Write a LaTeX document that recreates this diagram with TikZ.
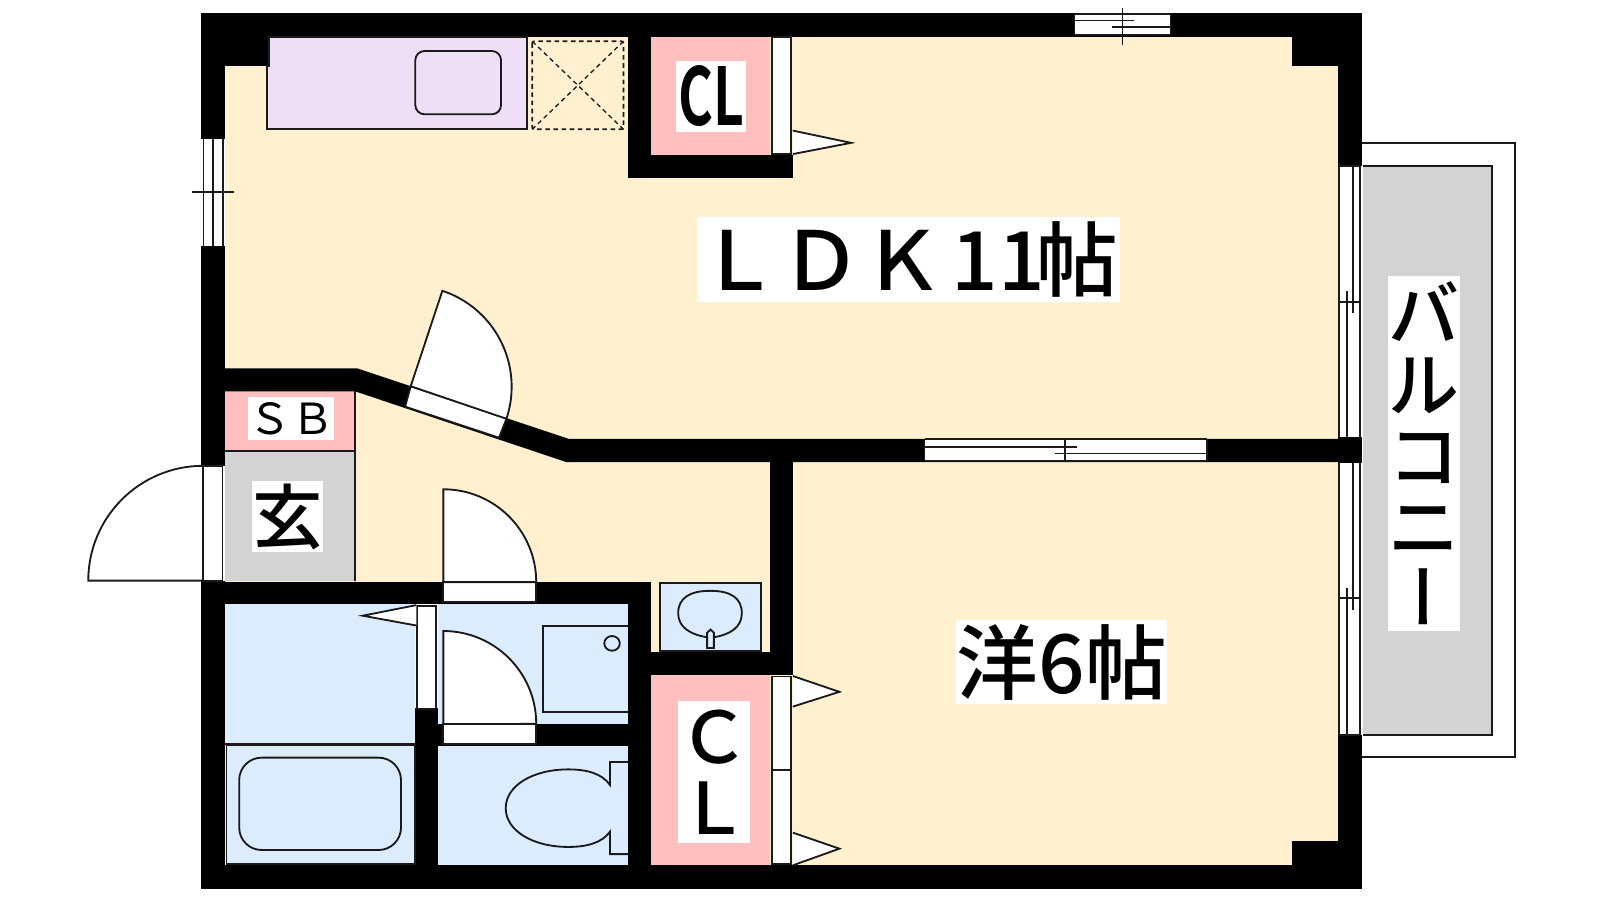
\documentclass[tikz,border=0pt]{standalone}
\usepackage{fontspec}
\setmainfont{Noto Sans CJK JP Medium}
\newfontfamily\regjp{Noto Sans CJK JP}
\newfontfamily\boldjp{Noto Sans CJK JP Bold}
\newfontfamily\vertjp[RawFeature=+vert]{Noto Sans CJK JP Medium}
\definecolor{cream}{HTML}{FFF1CF}
\definecolor{lav}{HTML}{EEDFF6}
\definecolor{pinkc}{HTML}{FFBFBF}
\definecolor{bluec}{HTML}{DBECFF}
\definecolor{grayc}{HTML}{D3D3D3}
\definecolor{ink}{HTML}{1A1A1A}
\tikzset{
  wallfill/.style={fill=black,draw=none},
  outl/.style={draw=ink,line width=1.8pt,line join=miter},
  thin line/.style={draw=ink,line width=1.7pt},
  leaf/.style={outl,fill=white},
  lbl/.style={fill=white,inner sep=0pt,align=center,text=black,anchor=center},
  dashline/.style={draw=ink,line width=1.7pt,dash pattern=on 4.5pt off 3.5pt}
}
\begin{document}
\begin{tikzpicture}[x=1pt,y=1pt,yscale=-1]
\useasboundingbox (0,0) rectangle (1568,882);
% interior
\fill[cream] (199,14) rectangle (1333,870);
% room fills
\fill[pinkc] (637.9,36) rectangle (755,152);
\fill[pinkc] (637.9,661) rectangle (755,848);
\fill[pinkc] (220,383) rectangle (348,441.7);
\fill[grayc] (220,441.7) rectangle (348,569.5);
\fill[bluec] (220.4,592) rectangle (407,728.5);
\fill[bluec] (429.4,592) rectangle (615.6,709.5);
\fill[bluec] (429.4,731) rectangle (615.6,848);
% walls
\fill[black] (197,13) rectangle (1335,36);
\fill[black] (197,848) rectangle (1335,871);
\fill[black] (197,13) rectangle (220.4,871);
\fill[black] (1311.5,13) rectangle (1335,163);
\fill[black] (1311.5,720) rectangle (1335,871);
\fill[black] (1311.5,428) rectangle (1335,454);
\fill[black] (197,13) rectangle (264,64.7);
\fill[black] (1266,13) rectangle (1335,64.7);
\fill[black] (1266,824) rectangle (1335,871);
\fill[black] (615.6,36) rectangle (637.9,174);
\fill[black] (615.6,152) rectangle (777,174);
\fill[black] (220.4,361) -- (350,361) -- (557,430) -- (1311.5,430) -- (1311.5,453) -- (557,453) -- (554,452.5) -- (348,383.5) -- (220.4,383.5) -- cycle;
\fill[black] (197,570) rectangle (637.9,592);
\fill[black] (615.6,570) rectangle (637.9,848);
\fill[black] (755,453) rectangle (777,661.5);
\fill[black] (615.6,639) rectangle (777,661.5);
\fill[black] (407,694) rectangle (429.4,848);
\fill[black] (429.4,709.5) rectangle (615.6,731);
\draw[thin line] (348,383.5) -- (348,569.5);
\draw[thin line] (220,441.7) -- (348,441.7);
% bathroom
\draw[outl,fill=bluec] (222,730) rectangle (407,847);
\draw[outl,rounded corners=22pt] (234.4,742.5) rectangle (393,833);
\draw[thin line] (220.4,729) -- (407,729);
% kitchen
\draw[outl,fill=lav] (262,64.7) -- (262,126.7) -- (516.2,126.7) -- (516.2,36.6) -- (264,36.6) -- (264,64.7) -- cycle;
\draw[outl,rounded corners=9pt] (407,50) rectangle (491,112);
\draw[dashline,rounded corners=2pt] (521.6,40.5) rectangle (611,126.7);
\draw[dashline,line width=1.3pt] (521.6,40.5) -- (611,126.7);
\draw[dashline,line width=1.3pt] (611,40.5) -- (521.6,126.7);
% upper closet door
\draw[leaf] (756.3,36.6) rectangle (775,151);
\draw[leaf] (777,128) -- (834,140) -- (777,151);
% lower closet doors
\draw[leaf] (756.3,663) rectangle (775,755);
\draw[leaf] (756.3,755) rectangle (775,846.8);
\draw[leaf] (777,662.5) -- (822.6,678) -- (777,692.5);
\draw[leaf] (777,816) -- (822.6,831.7) -- (777,848);
% left window
\fill[white] (197,136) rectangle (220.4,241);
\draw[thin line] (199.4,136) -- (199.4,241) (209,136) -- (209,241) (218.4,136) -- (218.4,241);
\draw[thin line] (188,188) -- (229.5,188);
% top window
\fill[white] (1053,14) rectangle (1147,34.3);
\draw[thin line] (1053,14) -- (1147,14) (1053,34.3) -- (1147,34.3) (1053,14) -- (1053,34.3) (1147,14) -- (1147,34.3);
\draw[thin line] (1053,20.2) -- (1111,20.2) (1090,26.8) -- (1147,26.8);
\draw[thin line] (1100,8) -- (1100,44);
% sliding door
\fill[white] (906,429.5) rectangle (1183,452.5);
\draw[thin line] (906,430.5) -- (1183,430.5) (906,451.8) -- (1183,451.8) (906,430.5) -- (906,451.8) (1183,430.5) -- (1183,451.8);
\draw[thin line] (906,438) -- (1055,438) (1034,444.5) -- (1183,444.5);
\draw[thin line] (1044,430.5) -- (1044,451.8);
% balcony
\draw[thin line] (1335,140.5) -- (1485,140.5) -- (1485,742) -- (1335,742);
\fill[grayc] (1335.5,162.5) rectangle (1462,720);
\draw[outl] (1335.5,162.5) -- (1462,162.5) -- (1462,720) -- (1335.5,720);
% right windows
\fill[white] (1311.5,163) rectangle (1335,428);
\fill[white] (1311.5,454) rectangle (1335,720);
\draw[thin line] (1312.5,163) -- (1312.5,428) (1333,163) -- (1333,428)
  (1326,163) -- (1326,307) (1320,285) -- (1320,428) (1312.5,296) -- (1333,296) (1312.5,163) -- (1333,163);
\draw[thin line] (1312.5,454) -- (1312.5,720) (1333,454) -- (1333,720)
  (1326,454) -- (1326,598) (1320,576) -- (1320,720) (1312.5,586) -- (1333,586) (1312.5,720) -- (1333,720);
% diagonal door
\draw[leaf] (402.5,378.5) -- (496.5,410) -- (489,429) -- (397,398.5) -- cycle;
\draw[leaf] (402.5,378.5) -- (433.5,285) arc[start angle=-71.7,end angle=18.5,radius=99] -- cycle;
% entrance door
\fill[white] (197,457) rectangle (220.4,569);
\draw[leaf] (199,457) rectangle (218,569);
\draw[leaf] (199,569) -- (199,456.5) arc[start angle=270,end angle=180,radius=112.5] -- cycle;
% hall door
\draw[leaf] (434.5,570.5) rectangle (525.6,590);
\draw[leaf] (434.5,570.5) -- (434.5,479.5) arc[start angle=270,end angle=360,radius=91] -- cycle;
% bath doors
\fill[white] (407,592) rectangle (429.4,694);
\draw[leaf] (408.8,594) rectangle (427.3,694.5);
\draw[leaf] (408,593) -- (355.5,603.4) -- (408,613);
\draw[leaf] (434.5,709.6) rectangle (525.6,729.5);
\draw[leaf] (434.5,709.6) -- (434.5,618.4) arc[start angle=270,end angle=360,radius=91] -- cycle;
% washing pan
\draw[outl] (615.6,613.5) -- (531.8,613.5) -- (531.8,697.4) -- (615.6,697.4);
\draw[outl] (599.8,630.5) ellipse[x radius=7.6,y radius=7.2];
% basin
\draw[outl,fill=bluec] (647,571) rectangle (746,637.7);
\draw[outl] (696,579) .. controls (716,579) and (727,586) .. (727,601) .. controls (727,615) and (715,622) .. (699.6,624.5)
  -- (693,624.5) .. controls (677,622) and (664.6,615) .. (664.6,601) .. controls (664.6,586) and (676,579) .. (696,579) -- cycle;
\draw[outl,fill=bluec] (693,635) -- (693,620) -- (696.3,617) -- (699.6,620) -- (699.6,635) -- cycle;
% toilet
\draw[outl] (615.6,746.8) -- (597.8,746.8) -- (597.8,769.3) .. controls (590,758) and (575,754) .. (557,754)
  .. controls (522,754) and (495.6,770) .. (495.6,792) .. controls (495.6,814) and (522,830) .. (557,830)
  .. controls (575,830) and (590,826) .. (597.8,815) -- (597.8,837) -- (615.6,837);
% labels
\node[lbl,minimum width=415pt,minimum height=83pt,font=\fontsize{80pt}{80pt}\selectfont] (ldk) at (890.5,254.5) {ＬＤＫ\kern8pt 11\kern-8pt 帖};
\node[lbl,minimum width=207pt,minimum height=82pt,font=\fontsize{80pt}{80pt}\selectfont] (yo) at (1040.5,649) {洋6帖};
\node[lbl,minimum width=68.5pt,minimum height=69pt,font=\boldjp\fontsize{78pt}{78pt}\selectfont] (cl1) at (696.7,94.5) {\raisebox{1.5pt}{\scalebox{0.67}[1]{CL}}};
\node[lbl,minimum width=70.3pt,minimum height=139pt,font=\fontsize{70pt}{69.5pt}\selectfont] (cl2) at (699.6,756.5) {Ｃ\\Ｌ};
\node[lbl,minimum width=84.4pt,minimum height=42pt,font=\regjp\fontsize{42pt}{42pt}\selectfont] (sb) at (285.2,410) {ＳＢ};
\node[lbl,minimum width=69.6pt,minimum height=69.5pt,font=\fontsize{69pt}{69pt}\selectfont] (gen) at (281.8,506.2) {玄};
\node[lbl,minimum width=71pt,minimum height=348pt,font=\fontsize{69.5pt}{69.6pt}\selectfont] (bal) at (1395.5,444.5) {バ\\ル\\コ\\ニ\\{\vertjp ー}};
\end{tikzpicture}
\end{document}
